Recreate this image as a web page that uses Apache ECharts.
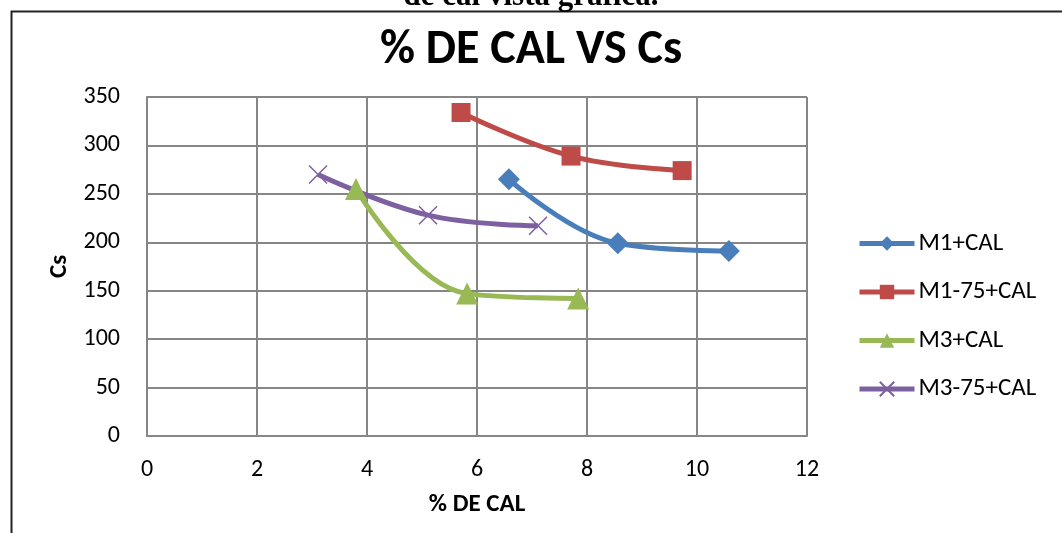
<!DOCTYPE html>
<html>
<head>
<meta charset="utf-8">
<script src="https://cdn.jsdelivr.net/npm/echarts@6/dist/echarts.min.js"></script>
<style>
html,body{margin:0;padding:0;background:#fff;}
#c{width:1062px;height:533px;}
</style>
</head>
<body>
<div id="c"></div>
<script>
const seriesNames = ['M1+CAL', 'M1-75+CAL', 'M3+CAL', 'M3-75+CAL'];
const m1X = [6.58, 8.56, 10.58];
const m1Y = [265, 199, 191];
const m175X = [5.71, 7.71, 9.73];
const m175Y = [334, 289, 274];
const m3X = [3.8, 5.82, 7.84];
const m3Y = [255, 147, 142];
const m375X = [3.11, 5.11, 7.11];
const m375Y = [270, 228, 217];
const xTicks = [0, 2, 4, 6, 8, 10, 12];
const yTicks = [0, 50, 100, 150, 200, 250, 300, 350];
const colors = ['#4A7EBB', '#BE4B48', '#98B954', '#7D60A0'];

const pair = (xs, ys) => xs.map((x, i) => [x, ys[i]]);
const font = 'Carlito, Lato, "Liberation Sans", sans-serif';
const xPath = 'path://M0,0L10,10M10,0L0,10';

const chart = echarts.init(document.getElementById('c'));
function mk(i, data, symbol, size, extra) {
  return Object.assign({
    name: seriesNames[i], type: 'line', data: data, smooth: 0.4,
    symbol: symbol, symbolSize: size, showSymbol: true,
    lineStyle: {color: colors[i], width: 5},
    itemStyle: {color: colors[i]},
    emphasis: {disabled: true}
  }, extra || {});
}
chart.setOption({
  animation: false,
  backgroundColor: '#fff',
  color: colors,
  title: {
    text: '% DE CAL VS Cs', left: 'center', top: 22,
    textStyle: {fontFamily: font, fontWeight: 'bold', fontSize: 48, color: '#000'}
  },
  graphic: [
    {type: 'rect', left: 9, top: 9, shape: {width: 1200, height: 700},
     style: {fill: 'none', stroke: '#222', lineWidth: 2}},
    {type: 'text', left: 'center', top: -19,
     style: {text: 'de cal vista gráfica.', font: 'bold 31px "Liberation Serif", "Times New Roman", serif', fill: '#000'}}
  ],
  legend: {
    orient: 'vertical', left: 857, top: 231, itemGap: 23.5, padding: 0,
    itemWidth: 55, itemHeight: 18,
    lineStyle: {width: 5},
    textStyle: {fontFamily: font, fontSize: 25, lineHeight: 25, color: '#000', padding: [0, 0, 0, -1]},
    data: seriesNames
  },
  grid: {left: 147, right: 255, top: 97, bottom: 97},
  xAxis: {
    type: 'value', min: 0, max: 12, interval: 2,
    name: '% DE CAL', nameLocation: 'middle', nameGap: 56,
    nameTextStyle: {fontFamily: font, fontWeight: 'bold', fontSize: 25, color: '#000'},
    axisLine: {show: true, lineStyle: {color: '#868686', width: 2}},
    axisTick: {show: false},
    axisLabel: {fontFamily: font, fontSize: 24, color: '#000', margin: 22},
    splitLine: {show: true, lineStyle: {color: '#868686', width: 2}}
  },
  yAxis: {
    type: 'value', min: 0, max: 350, interval: 50,
    name: 'Cs', nameLocation: 'middle', nameGap: 73,
    nameTextStyle: {fontFamily: font, fontWeight: 'bold', fontSize: 25, color: '#000'},
    axisLine: {show: true, lineStyle: {color: '#868686', width: 2}},
    axisTick: {show: false},
    axisLabel: {fontFamily: font, fontSize: 24, color: '#000', margin: 27},
    splitLine: {show: true, lineStyle: {color: '#868686', width: 2}}
  },
  series: [
    mk(0, pair(m1X, m1Y), 'diamond', 22),
    mk(1, pair(m175X, m175Y), 'rect', 19),
    mk(2, pair(m3X, m3Y), 'triangle', 22),
    mk(3, pair(m375X, m375Y), xPath, 18, {itemStyle: {color: colors[3], borderColor: colors[3], borderWidth: 1.5}})
  ]
});
</script>
</body>
</html>
